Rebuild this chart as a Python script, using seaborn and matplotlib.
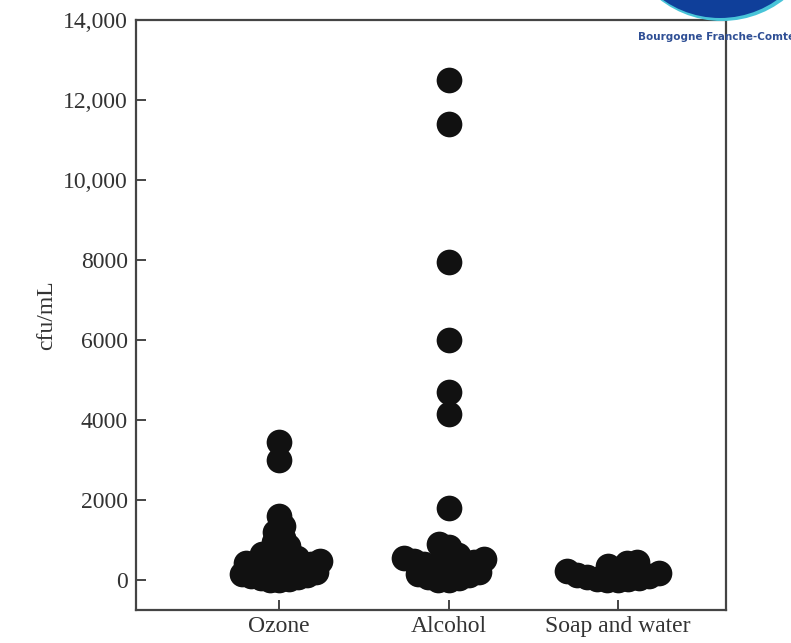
import numpy as np
import pandas as pd
import matplotlib.pyplot as plt
import seaborn as sns
from matplotlib.patches import Circle

# ----------------------------
# Data
# ----------------------------

categories = ["Ozone", "Alcohol", "Soap and water"]

ozone = [3450, 3000, 1600, 1350, 1200, 1050, 950, 850, 750, 650, 560, 530,
         500, 475, 450, 420, 400, 370, 340, 310, 280, 250, 220, 190, 160,
         130, 100, 75, 50, 25, 0, 0]

alcohol = [12500, 11400, 7950, 6000, 4700, 4150, 1800, 900, 820, 620, 560,
           530, 500, 470, 440, 400, 360, 320, 280, 240, 200, 160, 120, 80,
           40, 0, 0]

soap = [450, 420, 350, 280, 220, 170, 130, 100, 70, 50, 30, 15, 0, 0]

yticks = [0, 2000, 4000, 6000, 8000, 10000, 12000, 14000]
ytick_labels = ["0", "2000", "4000", "6000", "8000", "10,000", "12,000", "14,000"]

df = pd.DataFrame({
    "group": [categories[0]] * len(ozone)
             + [categories[1]] * len(alcohol)
             + [categories[2]] * len(soap),
    "cfu": ozone + alcohol + soap,
})

# ----------------------------
# Plot
# ----------------------------

sns.set_style("ticks")
plt.rcParams["font.family"] = ["Liberation Serif", "DejaVu Serif"]

fig = plt.figure(figsize=(7.91, 6.43), dpi=100)
ax = fig.add_axes([0.172, 0.0513, 0.746, 0.918])

# lay the swarm out with small markers, then draw them large (overlapping)
layout_size = {"Ozone": 7.5, "Alcohol": 8.3, "Soap and water": 8.3}
for g in categories:
    sns.swarmplot(data=df[df["group"] == g], x="group", y="cfu",
                  order=categories, color="#111111", size=layout_size[g],
                  linewidth=0, ax=ax)
fig.canvas.draw()
for coll in ax.collections:
    if "draw" in coll.__dict__:
        del coll.draw
    coll.set_sizes([18.5 ** 2])

ax.set_xlim(-0.846, 2.64)
ax.set_ylim(-750, 14000)
ax.set_yticks(yticks)
ax.set_yticklabels(ytick_labels)

ax.set_xlabel("")
ax.set_ylabel("cfu/mL", fontsize=17, color="#333333", labelpad=4)

for side in ["top", "right", "bottom", "left"]:
    ax.spines[side].set_visible(True)
    ax.spines[side].set_linewidth(1.6)
    ax.spines[side].set_color("#444444")

ax.tick_params(axis="both", direction="in", length=7, width=1.4,
               color="#444444", labelsize=17, labelcolor="#333333")
ax.tick_params(axis="y", pad=6)
ax.tick_params(axis="x", pad=4)

# logo in the corner
fig.patches.append(Circle((722, 643 + 80), 101, transform=None,
                          facecolor="#48c4d8", edgecolor="none", zorder=5))
fig.patches.append(Circle((720, 643 + 81), 99, transform=None,
                          facecolor="#0f3f9a", edgecolor="none", zorder=6))
fig.text(638 / 791, 1 - 37 / 643, "Bourgogne Franche-Comté",
         fontsize=7.5, fontweight="bold", color="#2f4f95",
         family="DejaVu Sans", va="center", ha="left", zorder=7)

plt.savefig("out.png", dpi=100)
